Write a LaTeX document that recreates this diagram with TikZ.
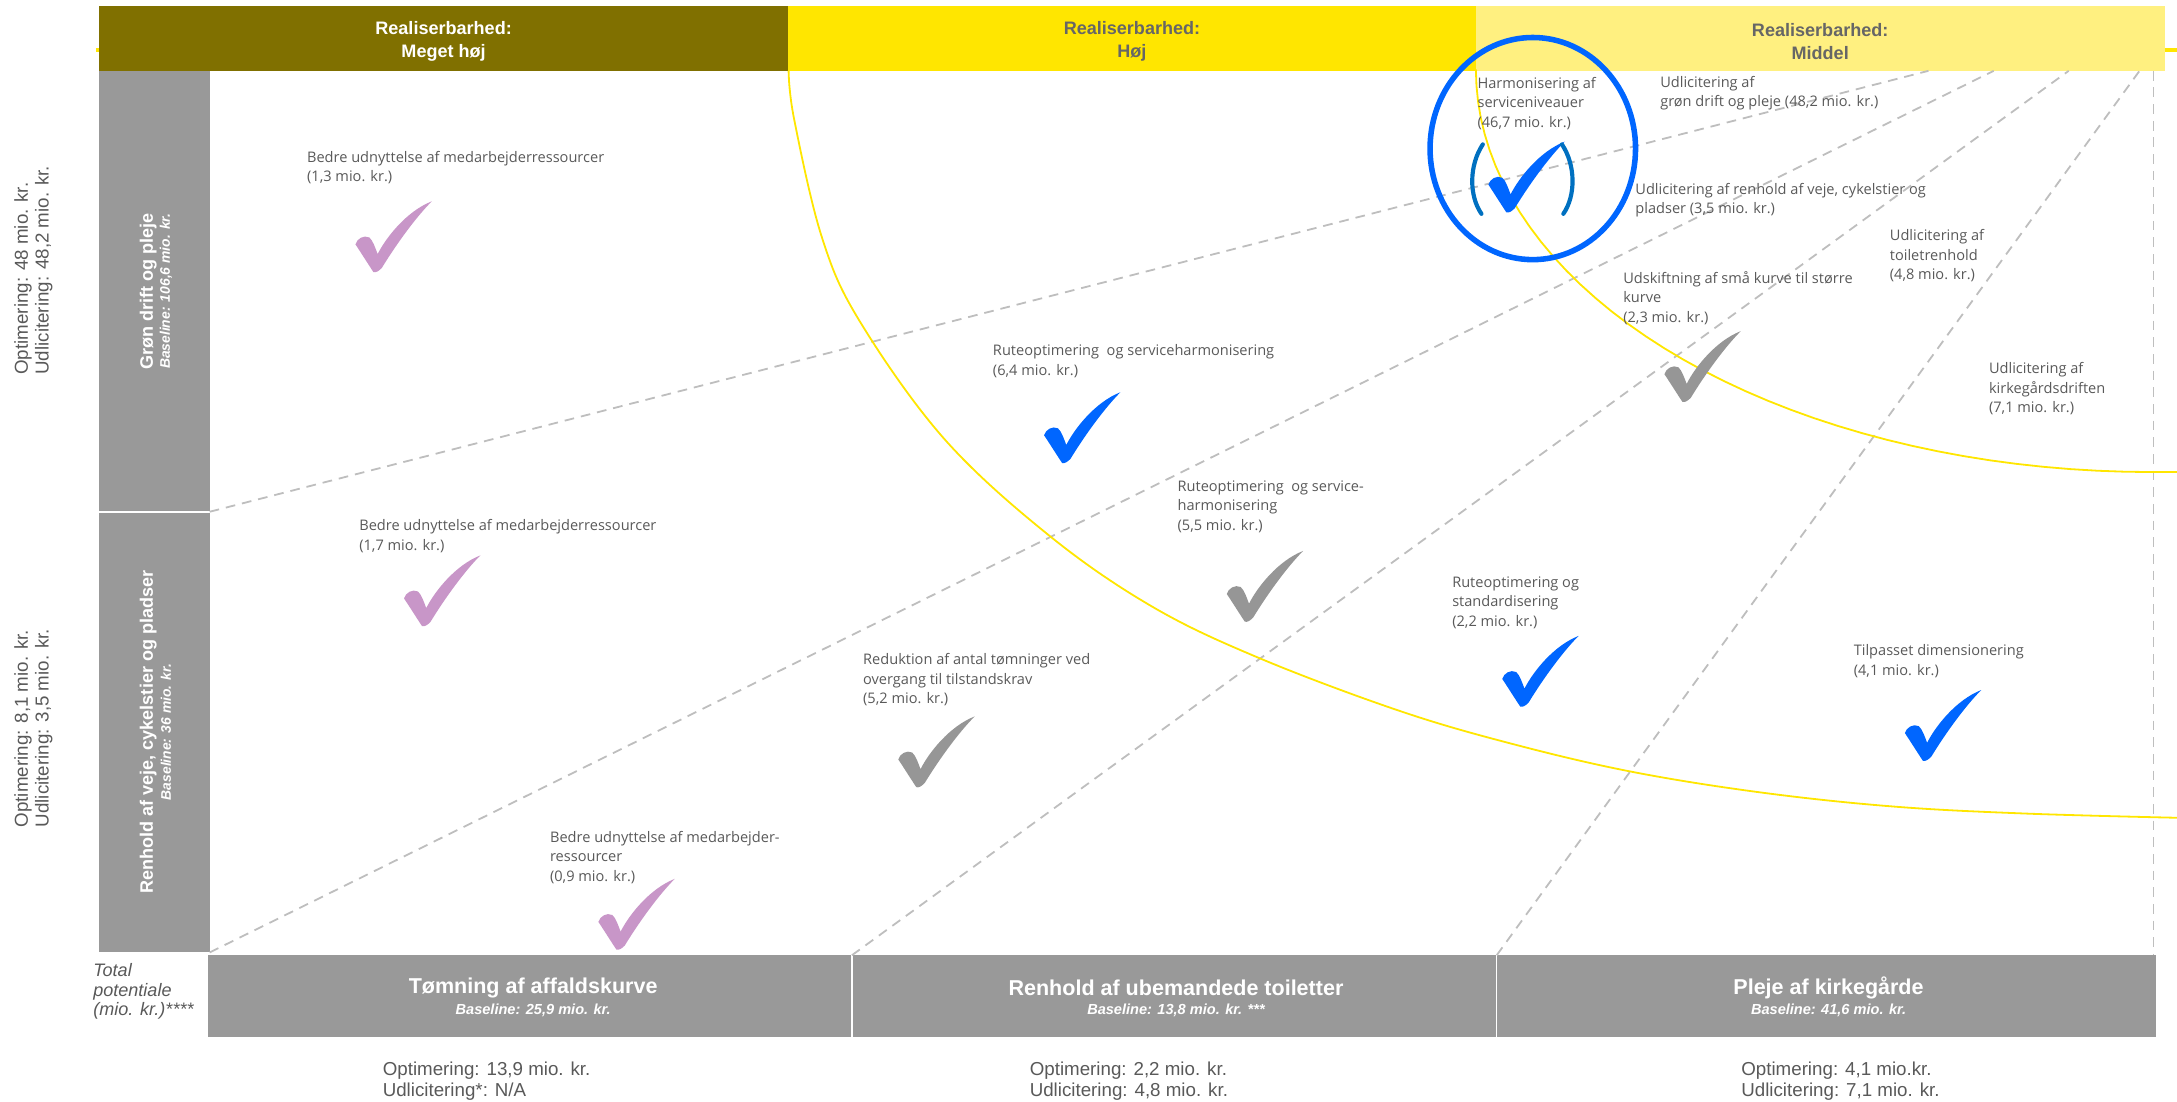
\documentclass[tikz,border=0pt]{standalone}
\usepackage{fontspec}
\setmainfont{Liberation Sans}
\newfontfamily\lblfont{Open Sans}

\definecolor{hdrolive}{RGB}{128,112,0}
\definecolor{hdryellow}{RGB}{255,230,0}
\definecolor{hdrlight}{RGB}{255,240,128}
\definecolor{boxgray}{RGB}{153,153,153}
\definecolor{txtgray}{RGB}{89,89,89}
\definecolor{hdrgray}{RGB}{102,102,102}
\definecolor{dashgray}{RGB}{190,190,190}
\definecolor{chkpurple}{RGB}{200,150,200}
\definecolor{chkblue}{RGB}{0,102,255}
\definecolor{chkgray}{RGB}{150,150,150}
\definecolor{parenblue}{RGB}{0,112,192}

% check mark, tip of the V at #1
\newcommand{\tickmark}[2]{%
  \fill[#2,shift={(#1)}] (0,0) .. controls (-4,-6) and (-9,-14) .. (-13,-20)
    .. controls (-12,-24) and (-7,-27) .. (-3,-25)
    .. controls (-0.5,-23) and (1.5,-17) .. (3,-13)
    .. controls (9,-25) and (24,-44) .. (42,-51)
    .. controls (31,-40) and (17,-21) .. (6,-3)
    .. controls (4,-1) and (2,0.5) .. (0,0) -- cycle;}

\tikzset{
  hdrtxt/.style={align=center, inner sep=0pt, font=\bfseries\fontsize{13}{16.8}\selectfont},
  coltitle/.style={rotate=90, inner sep=0pt, text=white, font=\bfseries\fontsize{13}{15}\selectfont},
  colbase/.style={rotate=90, inner sep=0pt, text=white, font=\bfseries\itshape\fontsize{10}{12}\selectfont},
  boxtitle/.style={inner sep=0pt, text=white, font=\bfseries\fontsize{15.5}{17}\selectfont},
  boxbase/.style={inner sep=0pt, text=white, font=\bfseries\itshape\fontsize{10.5}{12}\selectfont},
  sidetxt/.style={align=left, inner sep=0pt, text=txtgray, font=\fontsize{13.5}{15}\selectfont},
  lbl/.style={anchor=north west, align=left, inner sep=0pt, text=txtgray, font=\lblfont\fontsize{10.5}{14}\selectfont},
  guide/.style={draw=dashgray, line width=1.3pt, dash pattern=on 7pt off 5pt},
  arcline/.style={draw=hdryellow, line width=1.3pt}
}

\begin{document}
\begin{tikzpicture}[x=1pt,y=-1pt]
  \useasboundingbox (0,0) rectangle (1568,793);

  % header
  \draw[hdryellow, line width=2.5pt] (69,36) -- (1568,36);
  \fill[hdrolive] (71.3,4.5) rectangle (567.6,51);
  \fill[hdryellow] (567.6,4.5) rectangle (1063,51);
  \fill[hdrlight] (1063,4.5) rectangle (1559,51);
  \node[hdrtxt, text=white] (megetT) at (319.5,30) {Realiserbarhed:\\Meget høj};
  \node[hdrtxt, text=hdrgray] (hoejT) at (815.3,30) {Realiserbarhed:\\Høj};
  \node[hdrtxt, text=hdrgray] (middelT) at (1311,30) {Realiserbarhed:\\Middel};

  % rows
  \fill[boxgray] (71.3,51) rectangle (151,686);
  \draw[white, line width=1.2pt] (71.3,368.6) -- (151,368.6);
  \node[coltitle] (groenT) at (106.8,209.8) {Grøn drift og pleje};
  \node[colbase] (groenB) at (119.5,209.8) {Baseline: 106,6 mio. kr.};
  \node[coltitle] (vejeT) at (106.8,527.3) {Renhold af veje, cykelstier og pladser};
  \node[colbase] (vejeB) at (119.5,527.3) {Baseline: 36 mio. kr.};
  \node[sidetxt, rotate=90, anchor=west] (groenSum) at (24,270) {Optimering: 48 mio. kr.\\Udlicitering: 48,2 mio. kr.};
  \node[sidetxt, rotate=90, anchor=west] (vejeSum) at (24,596) {Optimering: 8,1 mio. kr.\\Udlicitering: 3,5 mio. kr.};

  % columns
  \fill[boxgray] (149.6,688) rectangle (1553,747);
  \draw[white, line width=1pt] (613.6,688) -- (613.6,747);
  \draw[white, line width=1pt] (1078,688) -- (1078,747);
  \node[boxtitle] (kurveT) at (384,711.8) {Tømning af affaldskurve};
  \node[boxbase] (kurveB) at (384,728) {Baseline: 25,9 mio. kr.};
  \node[boxtitle] (toiletT) at (847,711.8) {Renhold af ubemandede toiletter};
  \node[boxbase] (toiletB) at (847,728) {Baseline: 13,8 mio. kr. ***};
  \node[boxtitle] (kirkeT) at (1317,711.8) {Pleje af kirkegårde};
  \node[boxbase] (kirkeB) at (1317,728) {Baseline: 41,6 mio. kr.};
  \node[sidetxt, anchor=west, font=\itshape\fontsize{13}{14}\selectfont] (total) at (67,714) {Total\\potentiale\\(mio. kr.)****};
  \node[sidetxt, anchor=north west] (kurveSum) at (275.5,765) {Optimering: 13,9 mio. kr.\\Udlicitering*: N/A};
  \node[sidetxt, anchor=north west] (toiletSum) at (741.5,765) {Optimering: 2,2 mio. kr.\\Udlicitering: 4,8 mio. kr.};
  \node[sidetxt, anchor=north west] (kirkeSum) at (1254,765) {Optimering: 4,1 mio.kr.\\Udlicitering: 7,1 mio. kr.};

  % dashed guides
  \coordinate (gA) at (151,368.6);
  \coordinate (gB) at (151,686);
  \coordinate (gC) at (613.6,688);
  \coordinate (gD) at (1078,688);
  \coordinate (hA) at (1389,51);
  \coordinate (hB) at (1436,51);
  \coordinate (hC) at (1490,51);
  \coordinate (hD) at (1541,51);
  \coordinate (eTop) at (1551,51);
  \coordinate (eBot) at (1551,688);
  \draw[guide] (gA) -- (hA);
  \draw[guide] (gB) -- (hB);
  \draw[guide] (gC) -- (hC);
  \draw[guide] (gD) -- (hD);
  \draw[guide] (eTop) -- (eBot);

  % yellow borders
  \draw[arcline] plot[smooth, tension=0.6] coordinates {(568,51) (572,86) (592,171) (619,231) (680,316) (756,386) (830,437) (907,474) (1008,512) (1090,536) (1176,556) (1270,571) (1365,581) (1460,586) (1568,589)};
  \draw[arcline] plot[domain=180:90, samples=40] ({1550+487*cos(\x)},{50+290*sin(\x)}) -- (1568,340);

  % initiatives
  \node[lbl] (bedre1) at (221,108.5) {Bedre udnyttelse af medarbejderressourcer\\(1,3 mio. kr.)};
  \node[lbl] (bedre2) at (258.6,374) {Bedre udnyttelse af medarbejderressourcer\\(1,7 mio. kr.)};
  \node[lbl] (bedre3) at (396,598.5) {Bedre udnyttelse af medarbejder-\\ressourcer\\(0,9 mio. kr.)};
  \node[lbl] (rute1) at (715,248) {Ruteoptimering~ og serviceharmonisering\\(6,4 mio. kr.)};
  \node[lbl] (rute2) at (848,346) {Ruteoptimering~ og service-\\harmonisering\\(5,5 mio. kr.)};
  \node[lbl] (reduk) at (621.5,470.5) {Reduktion af antal tømninger ved\\overgang til tilstandskrav\\(5,2 mio. kr.)};
  \node[lbl] (harmon) at (1064,55.5) {Harmonisering af\\serviceniveauer\\(46,7 mio. kr.)};
  \node[lbl] (udlGroen) at (1195.6,54.7) {Udlicitering af\\grøn drift og pleje (48,2 mio. kr.)};
  \node[lbl] (udlVeje) at (1177.7,131.5) {Udlicitering af renhold af veje, cykelstier og\\pladser (3,5 mio. kr.)};
  \node[lbl] (udlToilet) at (1361,165.2) {Udlicitering af\\toiletrenhold\\(4,8 mio. kr.)};
  \node[lbl] (udskift) at (1169,195.2) {Udskiftning af små kurve til større\\kurve\\(2,3 mio. kr.)};
  \node[lbl] (udlKirke) at (1432.4,261.1) {Udlicitering af\\kirkegårdsdriften\\(7,1 mio. kr.)};
  \node[lbl] (rute3) at (1045.8,415) {Ruteoptimering og\\standardisering\\(2,2 mio. kr.)};
  \node[lbl] (tilpas) at (1335,464.1) {Tilpasset dimensionering\\(4,1 mio. kr.)};

  \tickmark{269,196}{chkpurple}
  \tickmark{304,451}{chkpurple}
  \tickmark{444,684}{chkpurple}
  \tickmark{765,333.5}{chkblue}
  \tickmark{896.6,447.8}{chkgray}
  \tickmark{660,567}{chkgray}
  \tickmark{1085,153}{chkblue}
  \tickmark{1211.8,289.5}{chkgray}
  \tickmark{1095,509}{chkblue}
  \tickmark{1385,548}{chkblue}

  % circled one
  \draw[parenblue, line width=3pt, line cap=round] (1068,104) .. controls (1058,119) and (1058,141) .. (1067,154);
  \draw[parenblue, line width=3pt, line cap=round] (1125,104) .. controls (1135,119) and (1135,141) .. (1126,154);
  \draw[chkblue, line width=4pt] (1104,107) ellipse [x radius=74pt, y radius=80pt];
\end{tikzpicture}
\end{document}
